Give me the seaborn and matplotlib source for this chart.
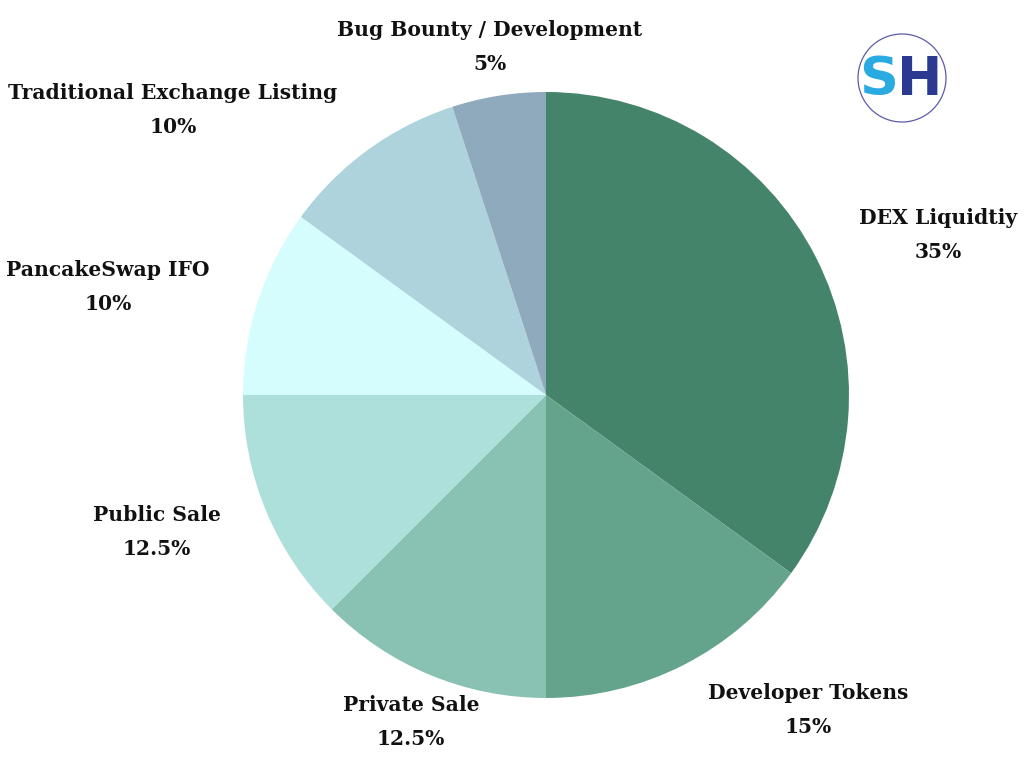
import matplotlib
matplotlib.use("Agg")
import matplotlib.pyplot as plt
import seaborn as sns
from matplotlib.patches import Circle

labels = ["DEX Liquidtiy", "Developer Tokens", "Private Sale", "Public Sale",
          "PancakeSwap IFO", "Traditional Exchange Listing", "Bug Bounty / Development"]
shares = [35, 15, 12.5, 12.5, 10, 10, 5]
pct_text = ["35%", "15%", "12.5%", "12.5%", "10%", "10%", "5%"]
colors = ["#44846a", "#64a48c", "#89c2b3", "#aee0db", "#d6fdfd", "#aed3dd", "#8fa9bd"]

# label block centres in pixel coordinates (x, y from top)
label_pos = [(938, 235), (808, 710), (411, 722), (157, 532),
             (108, 287), (173, 110), (490, 47)]

sns.set_style("white")
plt.rcParams["font.family"] = ["DejaVu Serif"]

W, H = 1024, 768
fig = plt.figure(figsize=(10.24, 7.68), dpi=100)
ax = fig.add_axes([0, 0, 1, 1])
ax.set_xlim(0, W)
ax.set_ylim(0, H)
ax.set_aspect("equal")
ax.axis("off")

ax.pie(shares, colors=colors, startangle=90, counterclock=False,
       center=(546, H - 395), radius=303, wedgeprops=dict(linewidth=0))
ax.set_xlim(0, W)
ax.set_ylim(0, H)

for lab, pct, (x, y) in zip(labels, pct_text, label_pos):
    ax.text(x, H - y, f"{lab}\n{pct}", ha="center", va="center",
            fontsize=14.6, fontweight="bold", color="#111111", linespacing=1.85)

# logo
ax.add_patch(Circle((902, H - 78), 44, fill=False, edgecolor="#5b5bab", linewidth=0.9))
ax.text(898, H - 80, "S", ha="right", va="center", fontsize=39, fontweight="bold",
        color="#29abe2", family="DejaVu Sans")
ax.text(897, H - 80, "H", ha="left", va="center", fontsize=39, fontweight="bold",
        color="#2b3990", family="DejaVu Sans", zorder=1)

fig.savefig("out.png", dpi=100)
